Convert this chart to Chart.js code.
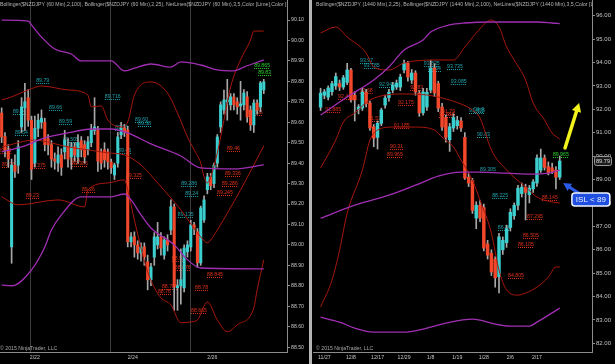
<!DOCTYPE html>
<html>
<head>
<meta charset="utf-8">
<script src="https://cdn.jsdelivr.net/npm/chart.js@4.4.1/dist/chart.umd.min.js"></script>
<style>
  html, body { margin: 0; padding: 0; background: #000; }
  #wrap { position: relative; width: 615px; height: 364px; overflow: hidden; background: #000; }
  #left { position: absolute; left: 0; top: 0; }
  #split { position: absolute; left: 309px; top: 0; width: 3px; height: 364px; background: #b4b4b4; }
  #right { position: absolute; left: 313px; top: 0; }
</style>
</head>
<body>
<div id="wrap">
  <canvas id="left" width="308" height="364"></canvas>
  <div id="split"></div>
  <canvas id="right" width="302" height="364"></canvas>
</div>
<script>
// ---- left panel: NZDJPY 60 min ----
const leftOpen  = [89.645,89.53,89.46,88.99,89.39,89.39,89.577,89.67,89.72,89.61,89.40,89.57,89.60,89.60,89.52,89.49,89.42,89.40,89.44,89.455,89.48,89.43,89.48,89.43,89.51,89.49,89.465,89.50,89.56,89.56,89.455,89.465,89.455,89.406,89.342,89.40,89.538,89.572,89.562,89.015,89.04,89.00,88.96,88.99,88.917,88.829,88.94,89.00,89.039,88.95,89.024,89.073,89.186,88.79,88.80,88.79,88.966,88.99,89.098,89.064,88.912,89.122,89.27,89.33,89.30,89.40,89.577,89.66,89.70,89.685,89.724,89.70,89.68,89.685,89.724,89.66,89.587,89.694,89.675,89.758];
const leftHigh  = [89.67,89.55,89.49,89.42,89.44,89.51,89.72,89.79,89.76,89.63,89.63,89.64,89.66,89.62,89.54,89.51,89.45,89.48,89.47,89.56,89.52,89.50,89.50,89.54,89.53,89.51,89.53,89.59,89.72,89.58,89.47,89.50,89.47,89.42,89.40,89.55,89.60,89.59,89.58,89.06,89.064,89.02,89.01,89.01,88.95,88.91,89.06,89.11,89.06,89.04,89.05,89.22,89.20,88.83,88.98,89.00,89.02,89.12,89.11,89.08,89.19,89.24,89.35,89.35,89.40,89.54,89.70,89.757,89.81,89.74,89.74,89.72,89.80,89.76,89.75,89.68,89.71,89.71,89.80,89.81];
const leftLow   = [89.50,89.43,89.38,88.91,89.33,89.35,89.55,89.56,89.58,89.32,89.38,89.53,89.57,89.46,89.44,89.38,89.37,89.36,89.34,89.42,89.38,89.37,89.41,89.40,89.43,89.40,89.44,89.48,89.54,89.36,89.37,89.38,89.37,89.35,89.32,89.38,89.52,89.53,88.99,88.99,88.94,88.93,88.92,88.90,88.78,88.80,88.90,88.98,88.95,88.93,88.97,89.05,88.68,88.68,88.71,88.77,88.94,88.97,89.05,88.89,88.90,89.11,89.25,89.27,89.28,89.38,89.55,89.64,89.61,89.66,89.66,89.64,89.61,89.66,89.60,89.56,89.55,89.64,89.65,89.74];
const leftClose = [89.528,89.465,89.42,89.39,89.36,89.48,89.675,89.70,89.61,89.37,89.57,89.61,89.62,89.49,89.49,89.42,89.41,89.44,89.38,89.513,89.42,89.48,89.44,89.50,89.465,89.43,89.504,89.56,89.577,89.41,89.40,89.416,89.406,89.377,89.391,89.528,89.572,89.553,89.015,89.039,89.00,88.961,88.99,88.941,88.829,88.892,89.039,89.039,88.985,89.024,89.00,89.186,88.795,88.80,88.83,88.985,89.00,89.098,89.08,88.912,89.181,89.22,89.333,89.29,89.39,89.528,89.685,89.709,89.71,89.724,89.685,89.675,89.69,89.743,89.626,89.587,89.694,89.66,89.792,89.797];
const leftTicks = [88.5,88.6,88.7,88.8,88.9,89.0,89.1,89.2,89.3,89.4,89.5,89.6,89.7,89.8,89.9,90.0,90.1];
const leftDates = ['2/22', '2/24', '2/26'];
const leftDateBars = [10, 39.5, 63.5];
const leftSessionBars = [8.8, 32.9, 56.8];
// indicator lines: [bar, price]
const leftP100Up  = [[0,90.100],[8,90.095],[9,90.076],[12,90.017],[16,89.958],[21,89.934],[24,89.900],[33,89.900],[37,89.851],[40,89.865],[45,89.885],[51,89.870],[54,89.895],[60,89.880],[65,89.856],[70,89.851],[73,89.870],[79,89.905]];
const leftP100Mid = [[0,89.455],[6,89.479],[13,89.523],[20,89.548],[27,89.567],[33,89.567],[38,89.548],[45,89.494],[54,89.435],[60,89.377],[70,89.372],[79,89.391]];
const leftP100Low = [[0,88.804],[3,88.800],[9,88.878],[13,88.990],[15,89.073],[18,89.147],[24,89.235],[33,89.235],[37,89.249],[39,89.220],[42,89.147],[45,89.083],[52,89.000],[56,88.927],[60,88.887],[79,88.883]];
const leftB25Up   = [[0,89.709],[3,89.724],[8,89.758],[12,89.777],[20,89.758],[26,89.733],[27,89.675],[30,89.680],[32,89.611],[36,89.577],[38,89.601],[40,89.733],[45,89.797],[50,89.743],[53,89.645],[56,89.528],[58,89.465],[60,89.401],[61,89.333],[62,89.303],[63,89.333],[65,89.450],[67,89.611],[69,89.773],[72,89.905],[75,90.002],[76,90.046],[79,90.046]];
const leftB25Mid  = [[0,89.479],[10,89.513],[15,89.499],[20,89.479],[26,89.465],[32,89.450],[37,89.440],[42,89.391],[47,89.303],[54,89.171],[60,89.039],[62,89.010],[63,89.024],[65,89.073],[72,89.269],[79,89.484]];
const leftB25Low  = [[0,89.235],[5,89.196],[17,89.220],[25,89.186],[26,89.269],[32,89.303],[37,89.318],[38,89.269],[40,89.122],[44,88.868],[48,88.741],[51,88.707],[54,88.619],[57,88.623],[59,88.633],[62,88.721],[65,88.633],[68,88.575],[71,88.609],[76,88.692],[77,88.780],[79,88.927]];
// NetLines labels: [text, bar where text starts, colour]
const leftNotes = [
  ['89.79',10.4,'c'],['89.716',31.1,'c'],['89.66',14.3,'c'],['89.64',3.4,'c'],['89.59',17.3,'c'],['89.60',40.2,'c'],
  ['89.56',34.2,'c'],['89.58',41.1,'c'],['89.54',4.0,'c'],['89.505',18.5,'c'],['89.48',19.7,'c'],['89.45',35.1,'c'],
  ['89.286',54.1,'c'],['89.24',55.3,'c'],['89.135',53.1,'c'],
  ['89.865',76.1,'g'],['89.83',77.3,'g'],
  ['89.635',73.9,'r'],['89.45',-1,'r'],['89.38',0.1,'r'],['89.4',20.6,'r'],['89.386',21.2,'r'],['89.375',8.5,'r'],
  ['89.23',7.3,'r'],['89.26',24.2,'r'],['89.325',37.5,'r'],['89.46',67.9,'r'],['89.336',67.3,'r'],['89.286',66.4,'r'],
  ['89.245',64.9,'r'],['88.92',51.3,'r'],['88.876',52.2,'r'],['88.845',61.9,'r'],['88.78',58.3,'r'],['88.785',48.3,'r'],
  ['88.76',47.1,'r'],['88.665',57.1,'r']
];

// ---- right panel: NZDJPY 1440 min ----
const rightOpen  = [92.09,92.60,92.52,92.75,93.00,93.10,92.95,93.15,93.68,92.60,92.00,92.05,92.73,92.27,91.25,90.80,91.40,92.18,92.50,92.82,92.95,92.95,93.68,93.97,93.25,93.55,92.70,91.85,92.10,92.82,93.76,93.10,92.10,91.65,90.70,91.20,91.30,91.50,90.80,89.10,88.95,87.35,87.90,87.80,86.25,85.85,85.60,84.85,86.00,86.30,86.95,87.45,87.90,88.40,88.67,88.35,88.60,88.85,89.40,89.92,89.55,89.50,89.40,89.10];
const rightHigh  = [92.90,92.85,93.00,93.20,93.55,93.25,93.45,93.96,93.75,92.75,92.20,92.90,92.85,92.35,91.35,91.50,92.05,92.60,92.85,93.15,93.25,93.50,94.10,94.05,93.70,93.65,92.80,92.90,92.90,94.10,93.95,93.20,92.25,91.75,91.40,91.80,91.70,91.65,91.00,89.25,89.05,88.05,88.10,87.95,86.40,86.00,85.70,86.70,86.55,87.05,87.75,88.00,88.75,88.85,88.80,88.75,89.00,90.05,90.30,90.05,89.75,89.70,89.55,90.00];
const rightLow   = [91.95,92.45,92.40,92.60,92.85,92.80,92.85,93.05,92.30,91.50,91.80,91.95,92.10,91.10,90.40,90.30,91.30,92.05,92.35,92.70,92.85,92.80,93.55,93.20,93.10,92.60,91.70,91.75,91.95,92.70,92.55,91.90,91.10,90.60,90.20,91.05,91.15,91.05,89.00,88.70,87.55,86.90,87.20,85.95,85.60,84.90,84.40,84.15,85.80,86.10,86.80,87.30,87.70,88.25,87.27,88.00,88.45,88.70,89.30,89.40,89.20,89.25,88.60,89.00];
const rightClose = [92.69,92.75,92.91,93.10,93.40,92.95,93.35,93.68,92.40,92.40,92.10,92.73,92.25,91.20,90.77,91.40,91.97,92.48,92.73,93.03,93.12,93.38,93.97,93.38,93.55,92.74,91.85,92.74,92.73,93.76,92.70,92.05,91.24,90.80,91.25,91.65,91.52,91.20,89.06,88.85,87.68,87.90,87.35,86.07,85.77,85.05,84.80,86.55,86.40,86.90,87.60,87.90,88.63,88.67,88.45,88.63,88.90,89.92,89.92,89.52,89.30,89.35,89.10,89.79];
const rightTicks = [82,83,84,85,86,87,88,89,90,91,92,93,94,95,96];
const rightDates = ['11/27','12/8','12/17','12/29','1/8','1/19','1/28','2/6','2/17'];
const rightDateBars = [2, 9, 16, 23, 30, 37, 44, 51, 58];
const rightP100Up  = [[1,91.757],[8,92.526],[15,93.252],[19,93.808],[23,94.534],[28,94.962],[30,95.300],[35,95.603],[39,95.688],[46,95.731],[58,95.731],[62,95.688],[64,95.660]];
const rightP100Mid = [[1,87.346],[10,87.902],[19,88.329],[26,88.756],[32,89.141],[38,89.312],[43,89.312],[50,89.269],[57,89.226],[61,89.269],[64,89.397]];
const rightP100Low = [[1,83.115],[6,82.906],[10,82.650],[15,82.479],[23,82.479],[28,82.607],[34,82.863],[41,83.034],[43,82.991],[47,82.820],[51,82.735],[56,82.735],[58,82.906],[64,83.504]];
const rightB25Up   = [[1,95.261],[5,95.517],[8,95.090],[13,94.406],[15,93.808],[19,93.679],[23,93.979],[32,94.107],[36,94.107],[39,94.662],[42,95.261],[46,95.816],[48,95.517],[50,94.662],[52,94.107],[55,93.252],[57,92.269],[60,91.543],[62,90.987],[64,90.731]];
const rightB25Mid  = [[1,89.491],[5,90.688],[7,91.457],[10,91.842],[14,92.397],[23,92.654],[29,92.611],[33,92.483],[38,92.226],[41,91.970],[43,91.628],[46,90.261],[50,89.406],[55,88.679],[58,88.252],[62,88.038],[64,87.995]];
const rightB25Low  = [[1,83.55],[4,84.70],[6,85.98],[8,87.56],[12,89.40],[14,90.68],[16,91.11],[20,91.24],[26,91.24],[31,91.11],[33,90.81],[36,90.39],[38,89.83],[41,88.97],[43,88.12],[46,86.71],[48,85.13],[50,84.28],[53,84.06],[55,84.15],[58,84.40],[61,84.83],[63,85.26],[64,85.26]];
const rightNotes = [
  ['93.97',11.4,'c'],['93.785',12.4,'c'],['93.835',28.2,'c'],['93.735',34.3,'c'],['93.64',29.3,'c'],['93.085',35.3,'c'],
  ['92.945',16.4,'c'],['91.9',41.4,'c'],['91.855',40.1,'c'],['90.83',42.2,'c'],['89.305',43.0,'c'],['88.225',46.2,'c'],['86.86',47.7,'c'],
  ['92.83',24.6,'r'],['92.68',11.3,'r'],['92.445',5.6,'r'],['92.175',21.4,'r'],['91.885',2.2,'r'],['91.79',33.0,'r'],
  ['91.655',32.2,'r'],['91.52',13.5,'r'],['91.185',20.3,'r'],['90.31',19.3,'r'],['89.965',18.5,'r'],['88.145',59.3,'r'],
  ['87.295',55.4,'r'],['86.505',54.3,'r'],['86.105',53.0,'r'],['84.805',50.4,'r'],
  ['89.965',62.2,'g']
];
// hand-drawn marks on the daily chart, in [bar, price]
const yellowArrow = [[65.4, 90.35], [69.1, 92.27]];
const blueArrow = [[70.6, 88.25], [64.9, 88.85]];
const islBox = [[67.2, 88.42], [77.2, 87.87]];
const islText = 'ISL < 89';

const UP = '#3ccfcf', DOWN = '#f2472a', WICK = '#a8a8a8';
const PURPLE = '#a12fb3', BAND = '#a8170d';
const NOTE = { r: '#e0301a', c: '#1fa3ad', g: '#2bd42b' };
const AXIS = '#c4c4c4', EDGE = '#8c8c8c', GRID = '#3a3a3a';
const FONT = "'Liberation Sans', Arial, sans-serif";

function arrow(ctx, x0, y0, x1, y1, color, width, head) {
  const a = Math.atan2(y1 - y0, x1 - x0);
  ctx.strokeStyle = ctx.fillStyle = color;
  ctx.lineWidth = width;
  ctx.lineCap = 'round';
  ctx.beginPath();
  ctx.moveTo(x0, y0);
  ctx.lineTo(x1 - head * 0.7 * Math.cos(a), y1 - head * 0.7 * Math.sin(a));
  ctx.stroke();
  ctx.beginPath();
  ctx.moveTo(x1, y1);
  ctx.lineTo(x1 - head * Math.cos(a - 0.5), y1 - head * Math.sin(a - 0.5));
  ctx.lineTo(x1 - head * Math.cos(a + 0.5), y1 - head * Math.sin(a + 0.5));
  ctx.closePath();
  ctx.fill();
}

function decor(p) {
  return {
    id: 'decor',
    beforeDatasetsDraw(chart) {
      // NetLines price levels sit under the candles
      const { ctx, scales: { x, y } } = chart;
      ctx.save();
      ctx.font = '5.2px ' + FONT;
      ctx.lineWidth = 1;
      ctx.setLineDash([1, 1]);
      p.notes.forEach(([text, bar, kind]) => {
        const px = x.getPixelForValue(bar);
        const py = Math.round(y.getPixelForValue(parseFloat(text))) + 0.5;
        const w = ctx.measureText(text).width;
        ctx.fillStyle = ctx.strokeStyle = NOTE[kind];
        ctx.fillText(text, px, py - 1.5);
        ctx.beginPath();
        ctx.moveTo(px, py);
        ctx.lineTo(px + w, py);
        ctx.stroke();
      });
      ctx.restore();
    },
    afterDraw(chart) {
      const { ctx, chartArea: a } = chart;
      ctx.save();
      ctx.beginPath();
      ctx.rect(a.left, a.top, a.right - a.left, a.bottom - a.top);
      ctx.clip();
      ctx.font = '5.2px ' + FONT;
      ctx.fillStyle = '#b4b4b4';
      ctx.textBaseline = 'top';
      ctx.fillText(p.title, a.left + p.inset, 2);
      ctx.fillStyle = '#a8a8a8';
      ctx.textBaseline = 'bottom';
      ctx.fillText('\u00a9 2015 NinjaTrader, LLC', a.left + p.inset, a.bottom - 1);
      ctx.restore();
      if (p.extra) p.extra(chart);
    }
  };
}

function drawPanel(id, p) {
  const bodies = p.open.map((o, i) => ({ x: i + p.first, y: [o, p.close[i]] }));
  const wicks = p.open.map((o, i) => ({ x: i + p.first, y: [p.low[i], p.high[i]] }));
  const line = (list, color, width) => ({
    type: 'line', data: list.map(([x, y]) => ({ x, y })), borderColor: color, borderWidth: width,
    pointRadius: 0, cubicInterpolationMode: 'monotone', order: 0
  });
  const labelAt = new Map(p.dateBars.map((v, i) => [v, p.dates[i]]));
  const sessions = new Set(p.sessions);
  return new Chart(document.getElementById(id), {
    type: 'bar',
    data: {
      datasets: [
        ...p.purple.map(l => line(l, PURPLE, 1.3)),
        ...p.bands.map(l => line(l, BAND, 1)),
        { data: wicks, backgroundColor: WICK, barThickness: 1, grouped: false, order: 2 },
        { data: bodies, backgroundColor: c => p.close[c.dataIndex] >= p.open[c.dataIndex] ? UP : DOWN,
          barThickness: p.body, minBarLength: 1, grouped: false, order: 1 }
      ]
    },
    options: {
      responsive: false, animation: false, devicePixelRatio: 1,
      layout: { padding: 0 },
      plugins: { legend: { display: false }, tooltip: { enabled: false } },
      scales: {
        x: {
          type: 'linear', min: p.xMin, max: p.xMax, offset: false,
          afterBuildTicks: s => { s.ticks = [...p.dateBars, ...p.sessions].sort((a, b) => a - b).map(v => ({ value: v })); },
          afterFit: s => { s.height = 12; s.paddingLeft = 0; s.paddingRight = 0; },
          ticks: { autoSkip: false, maxRotation: 0, padding: 2, color: AXIS, font: { family: FONT, size: 5.2 },
                   callback: v => labelAt.get(v) || '' },
          grid: { offset: false, drawTicks: false, color: c => (c.tick && sessions.has(c.tick.value)) ? GRID : 'rgba(0,0,0,0)' },
          border: { display: true, color: EDGE }
        },
        y: {
          position: 'right', min: p.yMin, max: p.yMax, beginAtZero: false,
          afterBuildTicks: s => { s.ticks = p.ticks.map(v => ({ value: v })); },
          afterFit: s => { s.width = p.axisW; s.paddingTop = 0; s.paddingBottom = 0; },
          ticks: { autoSkip: false, padding: 1, color: AXIS, font: { family: FONT, size: p.tickSize },
                   callback: v => Number(v).toFixed(2) },
          grid: { drawOnChartArea: false, drawTicks: true, tickLength: 3, tickColor: EDGE },
          border: { display: true, color: EDGE }
        }
      }
    },
    plugins: [decor(p)]
  });
}

drawPanel('left', {
  open: leftOpen, high: leftHigh, low: leftLow, close: leftClose, first: 0,
  purple: [leftP100Up, leftP100Mid, leftP100Low], bands: [leftB25Up, leftB25Mid, leftB25Low],
  notes: leftNotes, ticks: leftTicks, dates: leftDates, dateBars: leftDateBars, sessions: leftSessionBars,
  xMin: -0.5, xMax: 86, yMin: 88.476, yMax: 90.198, axisW: 21, tickSize: 5.2, body: 2.4, inset: 0,
  title: 'Bollinger($NZDJPY (60 Min),2,100), Bollinger($NZDJPY (60 Min),2,25), NetLines($NZDJPY (60 Min),3,5,Color [Lime],Color [Red])'
});

drawPanel('right', {
  open: rightOpen, high: rightHigh, low: rightLow, close: rightClose, first: 1,
  purple: [rightP100Up, rightP100Mid, rightP100Low], bands: [rightB25Up, rightB25Mid, rightB25Low],
  notes: rightNotes, ticks: rightTicks, dates: rightDates, dateBars: rightDateBars, sessions: [],
  xMin: -1, xMax: 72.5, yMin: 81.63, yMax: 96.67, axisW: 23, tickSize: 6, body: 2.8, inset: 3,
  title: 'Bollinger($NZDJPY (1440 Min),2,25), Bollinger($NZDJPY (1440 Min),2,100), NetLines($NZDJPY (1440 Min),3,5,Color [Lime],Color [Red])',
  extra(chart) {
    const { ctx, chartArea: a, scales: { x, y } } = chart;
    const last = rightClose[rightClose.length - 1];
    const py = y.getPixelForValue(last);
    ctx.save();
    // last price marker on the axis
    ctx.fillStyle = '#1c1c1c';
    ctx.strokeStyle = '#9a9a9a';
    ctx.lineWidth = 1;
    ctx.beginPath();
    ctx.roundRect(a.right + 2.5, py - 4.5, 17, 9, 2);
    ctx.fill();
    ctx.stroke();
    ctx.fillStyle = '#dcdcdc';
    ctx.font = '5.6px ' + FONT;
    ctx.textBaseline = 'middle';
    ctx.fillText(last.toFixed(2), a.right + 4, py + 0.5);
    // hand-drawn arrows
    const P = ([b, v]) => [x.getPixelForValue(b), y.getPixelForValue(v)];
    const [y0, y1] = yellowArrow.map(P);
    arrow(ctx, y0[0], y0[1], y1[0], y1[1], '#f2f21c', 3.5, 10);
    const [b0, b1] = blueArrow.map(P);
    arrow(ctx, b0[0], b0[1], b1[0], b1[1], '#2a5ae8', 3, 9);
    // ISL box
    const [t0, t1] = islBox.map(P);
    ctx.fillStyle = '#1f4fe0';
    ctx.strokeStyle = '#f0f4ff';
    ctx.lineWidth = 1.5;
    ctx.beginPath();
    ctx.roundRect(t0[0], t0[1], t1[0] - t0[0], t1[1] - t0[1], 3);
    ctx.fill();
    ctx.stroke();
    ctx.fillStyle = '#eef2ff';
    ctx.font = '8px ' + FONT;
    ctx.textAlign = 'center';
    ctx.textBaseline = 'middle';
    ctx.fillText(islText, (t0[0] + t1[0]) / 2, (t0[1] + t1[1]) / 2 + 0.5);
    ctx.restore();
  }
});
</script>
</body>
</html>
